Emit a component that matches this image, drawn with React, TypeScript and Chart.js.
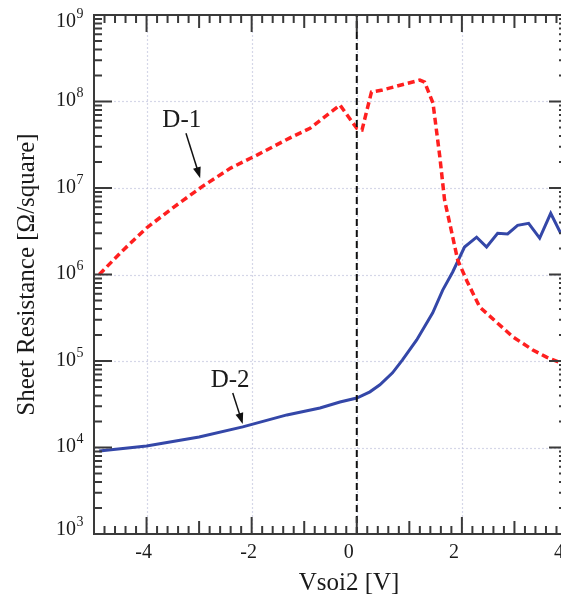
import React, { useEffect, useRef } from "react";
import { Chart, registerables } from "chart.js";

Chart.register(...registerables);

// ---- Data ----
const d1Volts = [-4.9, -4.45, -4.0, -3.5, -2.95, -2.4, -1.9, -1.27, -0.89, -0.32, 0.0, 0.1, 0.28, 0.49, 1.2, 1.29, 1.45, 1.58, 1.67, 1.8, 1.92, 2.1, 2.34, 2.97, 3.35, 3.61, 3.88, 4.0];
const d1Ohms = [1.0e6, 1.9e6, 3.45e6, 5.9e6, 1.03e7, 1.7e7, 2.4e7, 3.8e7, 4.9e7, 9.1e7, 4.9e7, 4.7e7, 1.29e8, 1.36e8, 1.77e8, 1.68e8, 9.6e7, 2.3e7, 7.3e6, 3.2e6, 1.47e6, 8.3e5, 4.2e5, 1.9e5, 1.34e5, 1.11e5, 9.5e4, 9.0e4];

const d2Volts = [-4.9, -4.0, -3.0, -2.17, -1.33, -0.7, -0.32, 0.0, 0.25, 0.44, 0.68, 0.87, 1.14, 1.445, 1.635, 1.825, 2.05, 2.28, 2.47, 2.68, 2.87, 3.06, 3.27, 3.48, 3.69, 3.88];
const d2Ohms = [9.1e3, 1.04e4, 1.32e4, 1.73e4, 2.38e4, 2.86e4, 3.36e4, 3.73e4, 4.4e4, 5.3e4, 7.3e4, 1.03e5, 1.75e5, 3.6e5, 6.6e5, 1.07e6, 2.08e6, 2.7e6, 2.08e6, 3.0e6, 2.94e6, 3.7e6, 3.9e6, 2.64e6, 5.1e6, 3.0e6];

const zeroLineVolts = [0, 0];
const zeroLineOhms = [1e3, 1e9];

const xTickLabels = ["-4", "-2", "0", "2", "4"];
const xTickValues = [-4, -2, 0, 2, 4];
const xGridValues = [-4, -2, 0, 2];
const yDecadeExps = [3, 4, 5, 6, 7, 8, 9];
const yGridExps = [4, 5, 6, 7, 8];

const xTitle = "Vsoi2 [V]";
const yTitle = "Sheet Resistance [\u03A9/square]";

// annotation: label at (volts, ohms), arrow from -> to (volts, ohms)
const d1Label = { text: "D-1", x: -3.33, y: 6.0e7 };
const d1Arrow = [-3.25, 4.3e7, -2.98, 1.3e7];
const d2Label = { text: "D-2", x: -2.41, y: 5.95e4 };
const d2Arrow = [-2.36, 4.27e4, -2.17, 1.87e4];

const FONT = "'Liberation Serif', 'Times New Roman', serif";
const AXIS_COLOR = "#3a3a3a";
const TEXT_COLOR = "#1a1a1a";

const toPoints = (xs: number[], ys: number[]) => xs.map((x, i) => ({ x, y: ys[i] }));

const decorPlugin = {
  id: "decor",
  beforeDatasetsDraw(chart: any) {
    const ctx = chart.ctx;
    const xs = chart.scales.x;
    const ys = chart.scales.y;
    const { left, right, top, bottom } = chart.chartArea;
    ctx.save();
    ctx.strokeStyle = "rgba(195,198,222,0.7)";
    ctx.lineWidth = 1.2;
    ctx.setLineDash([2, 2]);
    for (const v of xGridValues) {
      const px = Math.round(xs.getPixelForValue(v)) + 0.5;
      ctx.beginPath();
      ctx.moveTo(px, top);
      ctx.lineTo(px, bottom);
      ctx.stroke();
    }
    for (const e of yGridExps) {
      const py = Math.round(ys.getPixelForValue(Math.pow(10, e))) + 0.5;
      ctx.beginPath();
      ctx.moveTo(left, py);
      ctx.lineTo(right, py);
      ctx.stroke();
    }
    ctx.restore();
  },
  afterDatasetsDraw(chart: any) {
    const ctx = chart.ctx;
    const xs = chart.scales.x;
    const ys = chart.scales.y;
    const { left, right, top, bottom } = chart.chartArea;
    ctx.save();
    ctx.setLineDash([]);
    // box
    ctx.strokeStyle = AXIS_COLOR;
    ctx.lineWidth = 2;
    ctx.strokeRect(left, top, right - left, bottom - top);

    // x ticks (every 0.2)
    ctx.lineWidth = 2;
    for (let i = -25; i <= 20; i++) {
      const v = i / 5;
      const px = xs.getPixelForValue(v);
      let len = 8;
      if (i % 10 === 0) len = 17;
      else if (i % 5 === 0) len = 13;
      ctx.beginPath();
      ctx.moveTo(px, bottom);
      ctx.lineTo(px, bottom - len);
      ctx.moveTo(px, top);
      ctx.lineTo(px, top + len);
      ctx.stroke();
    }
    // y ticks (log)
    for (let e = 3; e <= 9; e++) {
      for (let m = 1; m <= 9; m++) {
        if (e === 9 && m > 1) break;
        const py = ys.getPixelForValue(m * Math.pow(10, e));
        const len = m === 1 ? 18 : 8;
        ctx.beginPath();
        ctx.moveTo(left, py);
        ctx.lineTo(left + len, py);
        ctx.moveTo(right, py);
        ctx.lineTo(right - len, py);
        ctx.stroke();
      }
    }

    // y tick labels 10^n
    ctx.fillStyle = TEXT_COLOR;
    for (const e of yDecadeExps) {
      const py = ys.getPixelForValue(Math.pow(10, e));
      const cy = Math.min(Math.max(py - 2, 20), 528);
      const base = cy + 6.6;
      ctx.font = `20px ${FONT}`;
      ctx.textAlign = "right";
      ctx.textBaseline = "alphabetic";
      ctx.fillText("10", 76, base);
      ctx.font = `14px ${FONT}`;
      ctx.textAlign = "left";
      ctx.fillText(String(e), 76.5, base - 9);
    }

    // x tick labels
    ctx.font = `20px ${FONT}`;
    ctx.textAlign = "center";
    ctx.textBaseline = "alphabetic";
    xTickValues.forEach((v, i) => {
      const px = xs.getPixelForValue(v);
      const off = v < 0 ? -3 : -8;
      ctx.fillText(xTickLabels[i], px + off, 558);
    });

    // axis titles
    ctx.font = `25px ${FONT}`;
    ctx.textAlign = "center";
    ctx.fillText(xTitle, 349, 590);
    ctx.save();
    ctx.translate(34, (top + bottom) / 2);
    ctx.rotate(-Math.PI / 2);
    ctx.fillText(yTitle, 0, 0);
    ctx.restore();

    // annotations
    const drawArrow = (a: number[]) => {
      const x0 = xs.getPixelForValue(a[0]);
      const y0 = ys.getPixelForValue(a[1]);
      const x1 = xs.getPixelForValue(a[2]);
      const y1 = ys.getPixelForValue(a[3]);
      const ang = Math.atan2(y1 - y0, x1 - x0);
      const hl = 11;
      const hw = 4;
      ctx.strokeStyle = "#111";
      ctx.lineWidth = 1.5;
      ctx.beginPath();
      ctx.moveTo(x0, y0);
      ctx.lineTo(x1 - Math.cos(ang) * hl * 0.8, y1 - Math.sin(ang) * hl * 0.8);
      ctx.stroke();
      ctx.fillStyle = "#111";
      ctx.beginPath();
      ctx.moveTo(x1, y1);
      ctx.lineTo(x1 - Math.cos(ang) * hl - Math.sin(ang) * hw, y1 - Math.sin(ang) * hl + Math.cos(ang) * hw);
      ctx.lineTo(x1 - Math.cos(ang) * hl + Math.sin(ang) * hw, y1 - Math.sin(ang) * hl - Math.cos(ang) * hw);
      ctx.closePath();
      ctx.fill();
    };
    drawArrow(d1Arrow);
    drawArrow(d2Arrow);
    ctx.fillStyle = TEXT_COLOR;
    ctx.font = `25px ${FONT}`;
    ctx.textAlign = "center";
    ctx.textBaseline = "middle";
    for (const l of [d1Label, d2Label]) {
      ctx.fillText(l.text, xs.getPixelForValue(l.x), ys.getPixelForValue(l.y));
    }
    ctx.restore();
  },
};

export default function App() {
  const ref = useRef<HTMLCanvasElement | null>(null);

  useEffect(() => {
    if (!ref.current) return;
    const chart = new Chart(ref.current, {
      type: "line",
      data: {
        datasets: [
          {
            label: "zero",
            data: toPoints(zeroLineVolts, zeroLineOhms),
            borderColor: "#111111",
            borderWidth: 2,
            borderDash: [7, 4],
            pointRadius: 0,
            fill: false,
            order: 0,
          },
          {
            label: "D-1",
            data: toPoints(d1Volts, d1Ohms),
            borderColor: "#ff1f1f",
            borderWidth: 3.5,
            borderDash: [7, 4],
            pointRadius: 0,
            fill: false,
            tension: 0,
            order: 1,
          },
          {
            label: "D-2",
            data: toPoints(d2Volts, d2Ohms),
            borderColor: "#3447a8",
            borderWidth: 3,
            pointRadius: 0,
            fill: false,
            tension: 0,
            order: 2,
          },
        ],
      },
      options: {
        responsive: false,
        animation: false,
        devicePixelRatio: 1,
        layout: { padding: { top: 15, right: 13, left: 0, bottom: 0 } },
        plugins: { legend: { display: false }, tooltip: { enabled: false } },
        scales: {
          x: {
            type: "linear",
            min: -5,
            max: 4,
            grid: { display: false },
            border: { display: false },
            ticks: { display: false },
            afterFit: (s: any) => {
              s.height = 64;
            },
          },
          y: {
            type: "logarithmic",
            min: 1e3,
            max: 1e9,
            grid: { display: false },
            border: { display: false },
            ticks: { display: false },
            afterFit: (s: any) => {
              s.width = 94;
            },
          },
        },
      },
      plugins: [decorPlugin],
    } as any);
    return () => chart.destroy();
  }, []);

  return (
    <div
      style={{
        position: "fixed",
        left: 0,
        top: 0,
        width: 561,
        height: 598,
        overflow: "hidden",
        background: "#fff",
      }}
    >
      <canvas ref={ref} width={580} height={598} style={{ display: "block", width: 580, height: 598 }} />
    </div>
  );
}
